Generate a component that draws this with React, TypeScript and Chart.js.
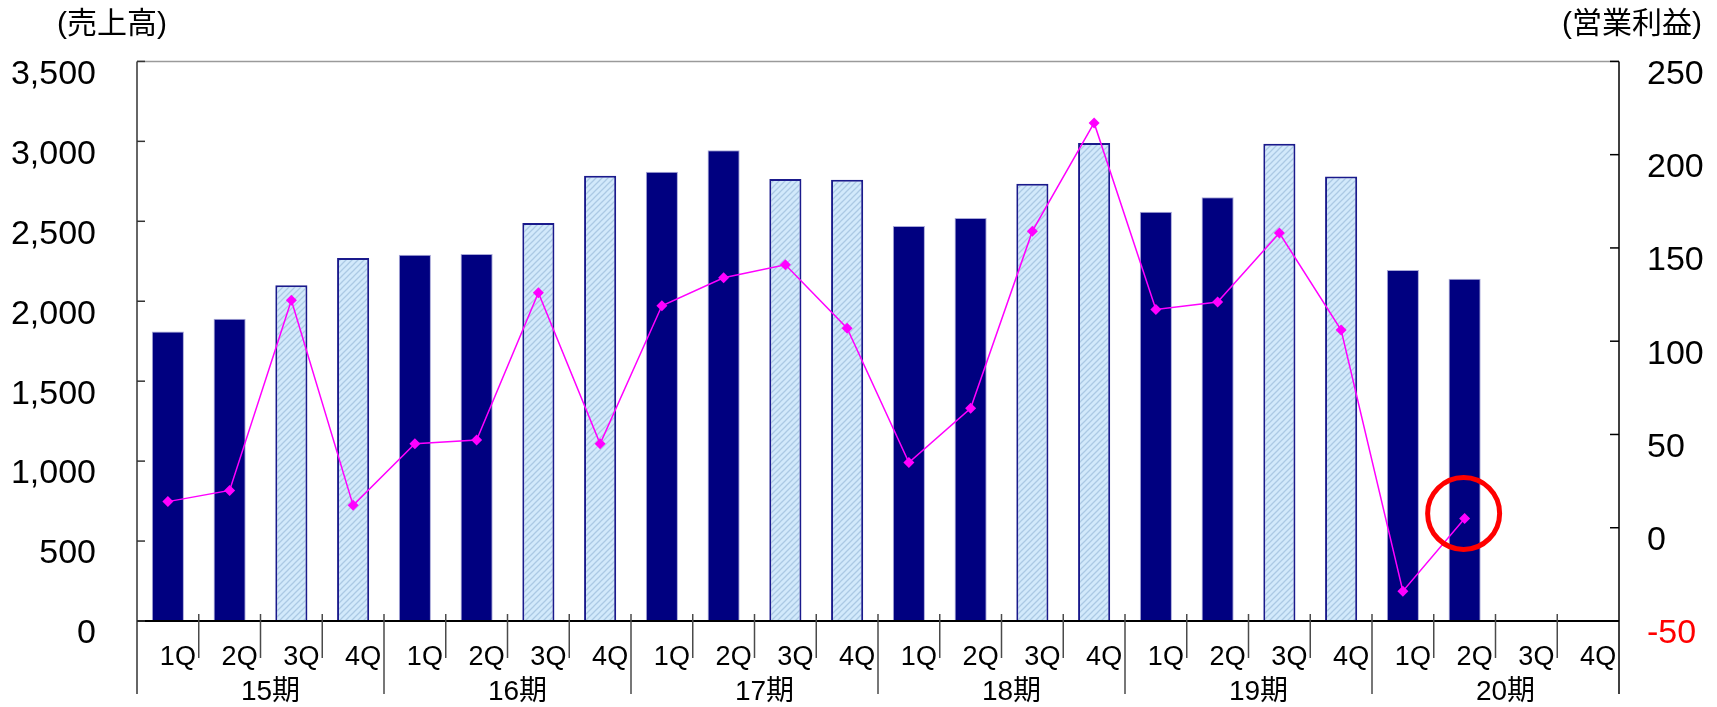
import { useEffect, useRef } from 'react';
import { Chart, registerables } from 'chart.js';

Chart.register(...registerables);

// ---- data ----
const QUARTERS = [
  '1Q', '2Q', '3Q', '4Q',
  '1Q', '2Q', '3Q', '4Q',
  '1Q', '2Q', '3Q', '4Q',
  '1Q', '2Q', '3Q', '4Q',
  '1Q', '2Q', '3Q', '4Q',
  '1Q', '2Q', '3Q', '4Q',
];
const PERIODS = ['15期', '16期', '17期', '18期', '19期', '20期'];
const SALES: (number | null)[] = [
  1810, 1890, 2100, 2270,
  2290, 2295, 2490, 2785,
  2810, 2945, 2765, 2760,
  2470, 2520, 2735, 2990,
  2560, 2650, 2985, 2780,
  2195, 2140, null, null,
];
const OPERATING_PROFIT: (number | null)[] = [
  14, 20, 122, 12,
  45, 47, 126, 45,
  119, 134, 141, 107,
  35, 64, 159, 217,
  117, 121, 158, 106,
  -34, 5, null, null,
];
const HATCHED_QUARTERS = ['3Q', '4Q'];
const SALES_AXIS = { min: 0, max: 3500, step: 500 };
const PROFIT_AXIS = { min: -50, max: 250, step: 50 };
const HIGHLIGHT_INDEX = 21;
const SALES_TITLE = '(売上高)';
const PROFIT_TITLE = '(営業利益)';

const NUM_FONT = "'Liberation Sans', Arial, sans-serif";
const JP_FONT = "'Liberation Sans', Arial, 'Noto Sans CJK JP', sans-serif";

export default function App() {
  const ref = useRef<HTMLCanvasElement>(null);

  useEffect(() => {
    const canvas = ref.current!;
    const tile = document.createElement('canvas');
    tile.width = 6;
    tile.height = 6;
    const tctx = tile.getContext('2d')!;
    tctx.fillStyle = '#d2e9fb';
    tctx.fillRect(0, 0, 6, 6);
    tctx.strokeStyle = '#abc9e4';
    tctx.lineWidth = 1.3;
    tctx.beginPath();
    tctx.moveTo(-1, 7); tctx.lineTo(7, -1);
    tctx.moveTo(-4, 4); tctx.lineTo(4, -4);
    tctx.moveTo(2, 10); tctx.lineTo(10, 2);
    tctx.stroke();
    const pattern = canvas.getContext('2d')!.createPattern(tile, 'repeat')!;

    const hatched = (q: string) => HATCHED_QUARTERS.includes(q);

    const decor = {
      id: 'decor',
      afterDraw(chart: any) {
        const { ctx, chartArea: ca, scales } = chart;
        const x = scales.x, y = scales.y, y1 = scales.y1;
        const line = (x1: number, y1p: number, x2: number, y2: number, c: string, w: number) => {
          ctx.beginPath();
          ctx.strokeStyle = c;
          ctx.lineWidth = w;
          ctx.moveTo(x1, y1p);
          ctx.lineTo(x2, y2);
          ctx.stroke();
        };
        ctx.save();
        line(ca.left, ca.top, ca.right, ca.top, '#9a9a9a', 1.5);
        line(ca.left, ca.top, ca.left, ca.bottom + 73, '#333', 1.5);
        line(ca.right, ca.top, ca.right, ca.bottom + 73, '#000', 1.5);
        line(ca.left, ca.bottom, ca.right, ca.bottom, '#000', 2);
        y.ticks.forEach((t: any) => {
          const py = y.getPixelForValue(t.value);
          line(ca.left, py, ca.left + 8, py, '#333', 1.5);
        });
        y1.ticks.forEach((t: any) => {
          const py = y1.getPixelForValue(t.value);
          line(ca.right - 9, py, ca.right, py, '#000', 1.5);
        });
        for (let i = 1; i < QUARTERS.length; i++) {
          const px = (x.getPixelForValue(i - 1) + x.getPixelForValue(i)) / 2;
          const long = i % 4 === 0;
          line(px, ca.bottom - 7, px, ca.bottom + (long ? 73 : 37), '#4a4a4a', 1.5);
        }
        // category labels
        ctx.fillStyle = '#000';
        ctx.textBaseline = 'middle';
        ctx.textAlign = 'center';
        ctx.font = `27px ${JP_FONT}`;
        QUARTERS.forEach((q, i) => {
          ctx.fillText(q, x.getPixelForValue(i) + 10, ca.bottom + 37);
        });
        ctx.font = `28px ${JP_FONT}`;
        const per = QUARTERS.length / PERIODS.length;
        PERIODS.forEach((p, k) => {
          const a = x.getPixelForValue(k * per);
          const b = x.getPixelForValue(k * per + per - 1);
          ctx.fillText(p, (a + b) / 2 + 10, ca.bottom + 71);
        });
        // highlight circle
        const meta = chart.getDatasetMeta(0);
        const pt = meta.data[HIGHLIGHT_INDEX];
        if (pt) {
          ctx.beginPath();
          ctx.strokeStyle = '#ff0000';
          ctx.lineWidth = 5;
          ctx.arc(pt.x - 1, pt.y - 5, 36, 0, Math.PI * 2);
          ctx.stroke();
        }
        // axis titles
        ctx.fillStyle = '#000';
        ctx.font = `30px ${JP_FONT}`;
        ctx.textBaseline = 'middle';
        ctx.textAlign = 'left';
        ctx.fillText(SALES_TITLE, ca.left - 80, 25);
        ctx.textAlign = 'right';
        ctx.fillText(PROFIT_TITLE, ca.right + 83, 25);
        ctx.restore();
      },
    };

    const chart = new Chart(canvas, {
      data: {
        labels: QUARTERS,
        datasets: [
          {
            type: 'line',
            data: OPERATING_PROFIT,
            yAxisID: 'y1',
            xAxisID: 'x',
            borderColor: '#ff00ff',
            borderWidth: 1.5,
            pointStyle: 'rectRot',
            pointRadius: 5.5,
            pointBackgroundColor: '#ff00ff',
            pointBorderColor: '#ff00ff',
            pointBorderWidth: 0,
            order: 1,
          } as any,
          {
            type: 'bar',
            data: SALES,
            yAxisID: 'y',
            xAxisID: 'x',
            backgroundColor: QUARTERS.map((q) => (hatched(q) ? pattern : '#000080')),
            borderColor: QUARTERS.map((q) => (hatched(q) ? '#1a1a8c' : '#a8a8d8')),
            borderWidth: QUARTERS.map((q) => (hatched(q) ? 2 : 1)),
            borderSkipped: 'start',
            barPercentage: 0.52,
            categoryPercentage: 1,
            order: 2,
          } as any,
        ],
      },
      options: {
        animation: false,
        responsive: false,
        layout: { padding: { left: 0, right: 0, top: 61, bottom: 0 } },
        plugins: { legend: { display: false }, tooltip: { enabled: false } },
        scales: {
          x: {
            type: 'category',
            position: 'bottom',
            offset: true,
            grid: { display: false, drawTicks: false },
            border: { display: false },
            ticks: { display: false },
            afterFit: (s: any) => { s.height = 86; },
          },
          y: {
            position: 'left',
            min: SALES_AXIS.min,
            max: SALES_AXIS.max,
            grid: { display: false, drawTicks: false },
            border: { display: false },
            ticks: {
              stepSize: SALES_AXIS.step,
              font: { family: NUM_FONT, size: 34 },
              color: '#000',
              padding: 41,
              labelOffset: 13,
              callback: (v: any) => Number(v).toLocaleString('en-US'),
            },
            afterFit: (s: any) => { s.width = 137; },
          },
          y1: {
            position: 'right',
            min: PROFIT_AXIS.min,
            max: PROFIT_AXIS.max,
            grid: { display: false, drawTicks: false },
            border: { display: false },
            ticks: {
              stepSize: PROFIT_AXIS.step,
              font: { family: NUM_FONT, size: 34 },
              color: (c: any) => (c.tick && c.tick.value < 0 ? '#ff0000' : '#000'),
              padding: 28,
              labelOffset: 13,
            },
            afterFit: (s: any) => { s.width = 98; },
          },
        },
      } as any,
      plugins: [decor],
    });
    return () => chart.destroy();
  }, []);

  return (
    <div style={{ position: 'fixed', left: 0, top: 0, width: 1717, height: 707, background: '#fff' }}>
      <canvas ref={ref} width={1717} height={707} />
    </div>
  );
}
